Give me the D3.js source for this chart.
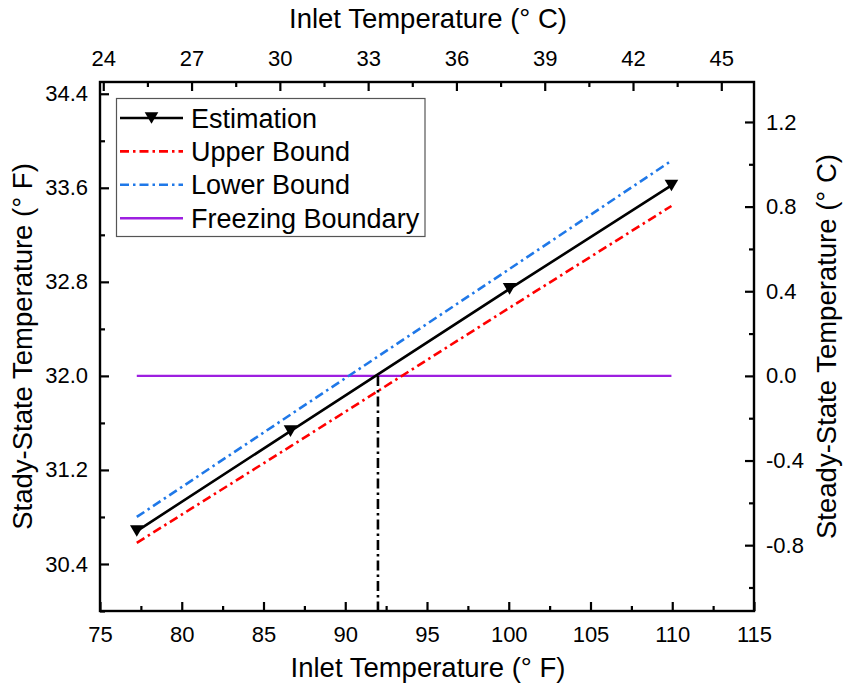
<!DOCTYPE html>
<html>
<head>
<meta charset="utf-8">
<script src="https://cdn.jsdelivr.net/npm/d3@7"></script>
<style>
  html, body { margin: 0; padding: 0; background: #fff; }
  svg { display: block; font-family: "Liberation Sans", Arial, sans-serif; }
</style>
</head>
<body>
<svg id="chart" width="846" height="696"></svg>
<script>
// Inlet temperature (°F) and steady-state temperature (°F)
const inletF      = [77.25, 86.65, 100.05, 109.95];
const estimation  = [30.68, 31.53, 32.74, 33.62];
const upperBound  = [30.58, 31.40, 32.58, 33.445];
const lowerBound  = [30.80, 31.67, 32.91, 33.83];
const freezingF   = 32.0;
const crossingF   = 92.0;

// Axis tick values
const xTicksF      = [75, 80, 85, 90, 95, 100, 105, 110, 115];
const xMinorF      = [77.5, 82.5, 87.5, 92.5, 97.5, 102.5, 107.5, 112.5];
const xTicksC      = [24, 27, 30, 33, 36, 39, 42, 45];
const xMinorC      = [25.5, 28.5, 31.5, 34.5, 37.5, 40.5, 43.5];
const yTicksF      = [30.4, 31.2, 32.0, 32.8, 33.6, 34.4];
const yMinorF      = [30.0, 30.8, 31.6, 32.4, 33.2, 34.0];
const yTicksC      = [-0.8, -0.4, 0.0, 0.4, 0.8, 1.2];
const yMinorC      = [-1.0, -0.6, -0.2, 0.2, 0.6, 1.0];

const seriesNames = ["Estimation", "Upper Bound", "Lower Bound", "Freezing Boundary"];

const toC = f => (f - 32) * 5 / 9;

const svg = d3.select("#chart");
const L = 100, R = 754, T = 82, B = 611;

const x  = d3.scaleLinear().domain([75, 115]).range([L, R]);
const xC = d3.scaleLinear().domain([toC(75), toC(115)]).range([L, R]);
const y  = d3.scaleLinear().domain([30.0, 34.5]).range([B, T]);
const yC = d3.scaleLinear().domain([toC(30.0), toC(34.5)]).range([B, T]);

const fmt1 = d => d.toFixed(1);
const tickFont = 22;

function styleAxis(g) {
  g.select(".domain").remove();
  g.selectAll("line").attr("stroke", "#000").attr("stroke-width", 2.2);
  g.selectAll("text").attr("font-size", tickFont).attr("fill", "#000")
    .attr("font-family", "Liberation Sans, Arial, sans-serif");
}

// bottom (°F)
svg.append("g").attr("transform", `translate(0,${B})`)
  .call(d3.axisBottom(x).tickValues(xTicksF).tickSize(-9).tickPadding(15).tickFormat(d3.format("d")))
  .call(styleAxis);
svg.append("g").attr("transform", `translate(0,${B})`)
  .call(d3.axisBottom(x).tickValues(xMinorF).tickSize(-5).tickFormat(""))
  .call(styleAxis);

// top (°C)
svg.append("g").attr("transform", `translate(0,${T})`)
  .call(d3.axisTop(xC).tickValues(xTicksC).tickSize(-9).tickPadding(16).tickFormat(d3.format("d")))
  .call(styleAxis);
svg.append("g").attr("transform", `translate(0,${T})`)
  .call(d3.axisTop(xC).tickValues(xMinorC).tickSize(-5).tickFormat(""))
  .call(styleAxis);

// left (°F)
svg.append("g").attr("transform", `translate(${L},0)`)
  .call(d3.axisLeft(y).tickValues(yTicksF).tickSize(-9).tickPadding(12).tickFormat(fmt1))
  .call(styleAxis);
svg.append("g").attr("transform", `translate(${L},0)`)
  .call(d3.axisLeft(y).tickValues(yMinorF).tickSize(-5).tickFormat(""))
  .call(styleAxis);

// right (°C)
svg.append("g").attr("transform", `translate(${R},0)`)
  .call(d3.axisRight(yC).tickValues(yTicksC).tickSize(-9).tickPadding(12).tickFormat(fmt1))
  .call(styleAxis);
svg.append("g").attr("transform", `translate(${R},0)`)
  .call(d3.axisRight(yC).tickValues(yMinorC).tickSize(-5).tickFormat(""))
  .call(styleAxis);

// frame
svg.append("rect").attr("x", L).attr("y", T).attr("width", R - L).attr("height", B - T)
  .attr("fill", "none").attr("stroke", "#000").attr("stroke-width", 2.4);

// axis titles
const titleFont = 27.5;
svg.append("text").attr("x", (L + R) / 2 + 1).attr("y", 677).attr("text-anchor", "middle")
  .attr("font-size", titleFont).text("Inlet Temperature (° F)");
svg.append("text").attr("x", (L + R) / 2 + 1).attr("y", 28).attr("text-anchor", "middle")
  .attr("font-size", titleFont).text("Inlet Temperature (° C)");
svg.append("text").attr("transform", `translate(32,${(T + B) / 2}) rotate(-90)`)
  .attr("text-anchor", "middle").attr("font-size", titleFont).text("Stady-State Temperature (° F)");
svg.append("text").attr("transform", `translate(836,${(T + B) / 2}) rotate(-90)`)
  .attr("text-anchor", "middle").attr("font-size", titleFont).text("Steady-State Temperature (° C)");

// series
const colors = { est: "#000000", upper: "#ff0000", lower: "#1f78e8", freeze: "#9d1fe0" };
const dashDot = "9,4,2.5,4";
const line = d3.line().x(d => x(d[0])).y(d => y(d[1]));
const zip = ys => inletF.map((f, i) => [f, ys[i]]);

const plot = svg.append("g");

plot.append("path").datum([[inletF[0], freezingF], [inletF[inletF.length - 1], freezingF]])
  .attr("d", line).attr("fill", "none").attr("stroke", colors.freeze).attr("stroke-width", 2.4);

plot.append("path").datum(zip(lowerBound)).attr("d", line).attr("fill", "none")
  .attr("stroke", colors.lower).attr("stroke-width", 2.6).attr("stroke-dasharray", dashDot);
plot.append("path").datum(zip(upperBound)).attr("d", line).attr("fill", "none")
  .attr("stroke", colors.upper).attr("stroke-width", 2.6).attr("stroke-dasharray", dashDot);

// vertical marker where the estimation crosses freezing
plot.append("path").datum([[crossingF, freezingF], [crossingF, y.domain()[0]]])
  .attr("d", line).attr("fill", "none").attr("stroke", "#000").attr("stroke-width", 2.6)
  .attr("stroke-dasharray", "10,4,2.5,4");

plot.append("path").datum(zip(estimation)).attr("d", line).attr("fill", "none")
  .attr("stroke", colors.est).attr("stroke-width", 2.6);

// down-pointing triangle centred on its bounding box
const tri = (cx, cy) => `M${cx - 6.8},${cy - 5.8}L${cx + 6.8},${cy - 5.8}L${cx},${cy + 5.8}Z`;
plot.selectAll(".mk").data(zip(estimation)).join("path").attr("class", "mk")
  .attr("d", d => tri(x(d[0]), y(d[1]))).attr("fill", "#000");

// legend
const lg = svg.append("g");
lg.append("rect").attr("x", 116.5).attr("y", 98.5).attr("width", 308.5).attr("height", 138)
  .attr("fill", "#fff").attr("stroke", "#555").attr("stroke-width", 1.2);
const rows = [
  { name: seriesNames[0], color: colors.est, dash: null, marker: true },
  { name: seriesNames[1], color: colors.upper, dash: dashDot },
  { name: seriesNames[2], color: colors.lower, dash: dashDot },
  { name: seriesNames[3], color: colors.freeze, dash: null }
];
rows.forEach((r, i) => {
  const cy = 118 + i * 33.4;
  lg.append("line").attr("x1", 120).attr("x2", 183).attr("y1", cy).attr("y2", cy)
    .attr("stroke", r.color).attr("stroke-width", 2.6)
    .attr("stroke-dasharray", r.dash);
  if (r.marker) lg.append("path").attr("d", tri(151.5, cy)).attr("fill", "#000");
  lg.append("text").attr("x", 191).attr("y", cy + 9.5).attr("font-size", titleFont - 0.5)
    .text(r.name);
});
</script>
</body>
</html>
